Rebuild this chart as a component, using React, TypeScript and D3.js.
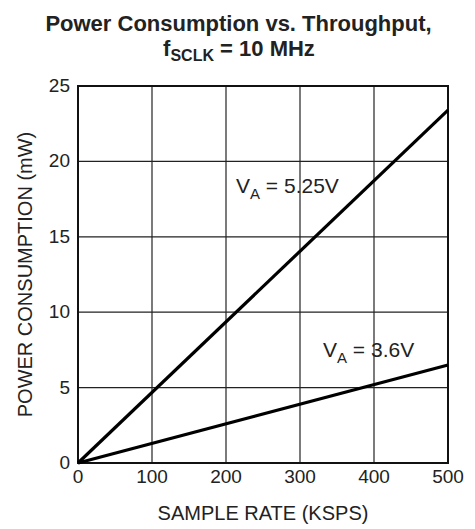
import React, { useEffect, useRef } from "react";
import * as d3 from "d3";

// values
const sampleRate = [0, 500];
const powerVA525 = [0, 23.4];
const powerVA36 = [0, 6.5];
const xTicks = [0, 100, 200, 300, 400, 500];
const yTicks = [0, 5, 10, 15, 20, 25];

const W = 475;
const H = 529;
const margin = { top: 86, right: 27, bottom: 66, left: 78 };
const font = "'Liberation Sans', Arial, Helvetica, sans-serif";

export default function App() {
  const svgRef = useRef<SVGSVGElement>(null);

  useEffect(() => {
    if (!svgRef.current) return;
    const svg = d3.select(svgRef.current);
    svg.selectAll("*").remove();

    const x = d3.scaleLinear().domain([0, 500]).range([margin.left, W - margin.right]);
    const y = d3.scaleLinear().domain([0, 25]).range([H - margin.bottom, margin.top]);

    // title
    const title = svg
      .append("text")
      .attr("text-anchor", "middle")
      .attr("font-family", font)
      .attr("font-weight", "bold")
      .attr("fill", "#222");
    title.append("tspan").attr("x", W / 2 + 1).attr("y", 31).attr("font-size", 22).text("Power Consumption vs. Throughput,");
    const l2 = svg
      .append("text")
      .attr("x", 239)
      .attr("y", 56)
      .attr("text-anchor", "middle")
      .attr("font-family", font)
      .attr("font-weight", "bold")
      .attr("font-size", 22)
      .attr("fill", "#222");
    l2.append("tspan").text("f");
    l2.append("tspan").attr("font-size", 16).attr("dy", 5).text("SCLK");
    l2.append("tspan").attr("dy", -5).text(" = 10 MHz");

    // grid
    const g = svg.append("g");
    g.selectAll("line.vx")
      .data(xTicks)
      .join("line")
      .attr("x1", (d) => x(d))
      .attr("x2", (d) => x(d))
      .attr("y1", y(0))
      .attr("y2", y(25))
      .attr("stroke", "#222")
      .attr("stroke-width", 1.2);
    g.selectAll("line.hy")
      .data(yTicks)
      .join("line")
      .attr("x1", x(0))
      .attr("x2", x(500))
      .attr("y1", (d) => y(d))
      .attr("y2", (d) => y(d))
      .attr("stroke", "#222")
      .attr("stroke-width", 1.2);

    svg
      .append("rect")
      .attr("x", x(0))
      .attr("y", y(25))
      .attr("width", x(500) - x(0))
      .attr("height", y(0) - y(25))
      .attr("fill", "none")
      .attr("stroke", "#111")
      .attr("stroke-width", 2);

    // tick labels
    svg
      .append("g")
      .selectAll("text")
      .data(xTicks)
      .join("text")
      .attr("x", (d) => x(d))
      .attr("y", 483)
      .attr("text-anchor", "middle")
      .attr("font-family", font)
      .attr("font-size", 19)
      .attr("fill", "#222")
      .text((d) => d);
    svg
      .append("g")
      .selectAll("text")
      .data(yTicks)
      .join("text")
      .attr("x", 70)
      .attr("y", (d) => y(d) + 6)
      .attr("text-anchor", "end")
      .attr("font-family", font)
      .attr("font-size", 19)
      .attr("fill", "#222")
      .text((d) => d);

    // axis titles
    svg
      .append("text")
      .attr("x", (x(0) + x(500)) / 2)
      .attr("y", 520)
      .attr("text-anchor", "middle")
      .attr("font-family", font)
      .attr("font-size", 20)
      .attr("fill", "#222")
      .text("SAMPLE RATE (KSPS)");
    svg
      .append("text")
      .attr("transform", `translate(32,${(y(0) + y(25)) / 2}) rotate(-90)`)
      .attr("text-anchor", "middle")
      .attr("font-family", font)
      .attr("font-size", 20)
      .attr("fill", "#222")
      .text("POWER CONSUMPTION (mW)");

    // series lines
    const line = d3
      .line<number>()
      .x((_, i) => x(sampleRate[i]))
      .y((d) => y(d));
    [powerVA525, powerVA36].forEach((s) => {
      svg
        .append("path")
        .attr("d", line(s))
        .attr("fill", "none")
        .attr("stroke", "#000")
        .attr("stroke-width", 3.2);
    });

    // annotations
    const labels = [
      { v: "5.25V", x: 236, y: 193 },
      { v: "3.6V", x: 323, y: 357 },
    ];
    labels.forEach((l) => {
      const t = svg
        .append("text")
        .attr("x", l.x)
        .attr("y", l.y)
        .attr("font-family", font)
        .attr("font-size", 21)
        .attr("fill", "#222");
      t.append("tspan").text("V");
      t.append("tspan").attr("font-size", 15).attr("dy", 6).text("A");
      t.append("tspan").attr("dy", -6).text(` = ${l.v}`);
    });
  }, []);

  return (
    <svg
      ref={svgRef}
      width={W}
      height={H}
      style={{ position: "absolute", left: 0, top: 0, background: "#fff" }}
    />
  );
}
